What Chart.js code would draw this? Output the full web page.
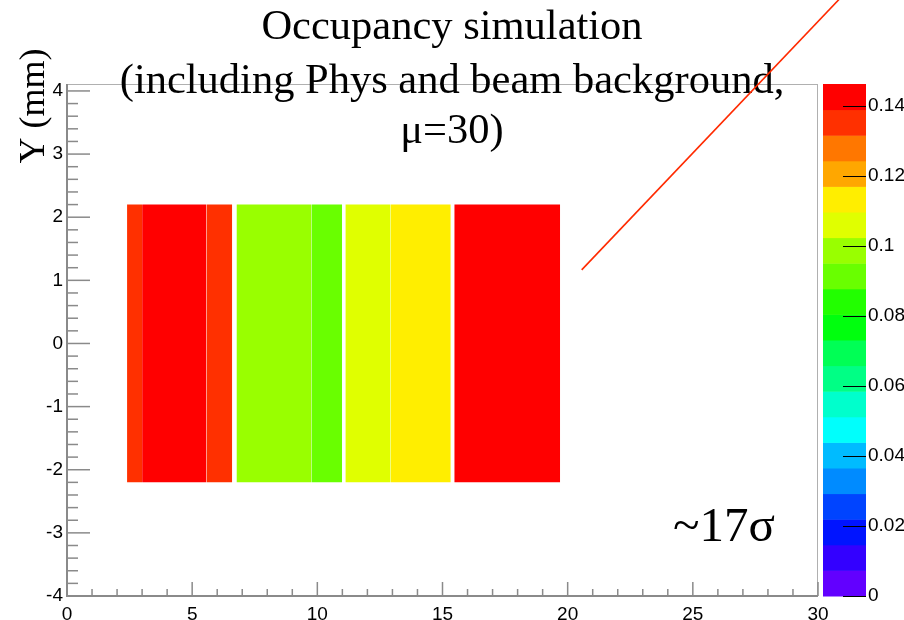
<!DOCTYPE html>
<html>
<head>
<meta charset="utf-8">
<script src="https://cdn.jsdelivr.net/npm/chart.js@4.4.0/dist/chart.umd.min.js"></script>
<style>
  html, body { margin: 0; padding: 0; background: #fff; }
  #occ { display: block; }
</style>
</head>
<body>
<canvas id="occ" width="904" height="620"></canvas>
<script>
// strips of the occupancy map, x in mm, each one spans y = -2.2 .. 2.2
const stripLow  = [2.4, 3.0, 5.57, 6.77, 9.76, 11.12, 12.93, 15.47];
const stripHigh = [3.0, 5.57, 6.6, 9.76, 10.99, 12.93, 15.33, 19.7];
const occupancy = [0.135, 0.145, 0.135, 0.098, 0.091, 0.106, 0.113, 0.145];
const stripY = [-2.2, 2.2];

// the red line drawn over the plot
const lineX = [20.56, 31.2];
const lineY = [1.165, 5.6];

const zMax = 0.1463;
const titleLines = ["Occupancy simulation", "(including Phys and beam background,", "\u03bc=30)"];

// ROOT palette 1 with 20 contours, violet -> red
const palette = ["#6200ff", "#3300ff", "#0014ff", "#0044ff", "#008bff", "#00bbff", "#00fffc",
  "#00ffcc", "#00ff85", "#00ff55", "#00ff0e", "#22ff00", "#69ff00", "#99ff00", "#e0ff00",
  "#ffee00", "#ffa700", "#ff7700", "#ff3000", "#ff0000"];

function colorFor(v) {
  let i = Math.floor(v / zMax * palette.length);
  return palette[Math.min(i, palette.length - 1)];
}

let datasets = occupancy.map(function (v, i) {
  return {
    data: [{x: stripLow[i], y: stripY[1]}, {x: stripHigh[i], y: stripY[1]}],
    fill: {value: stripY[0]},
    backgroundColor: colorFor(v),
    borderColor: 'rgba(0,0,0,0)',
    borderWidth: 0,
    pointRadius: 0
  };
});
datasets.push({
  data: [{x: lineX[0], y: lineY[0]}, {x: lineX[1], y: lineY[1]}],
  borderColor: '#ff2a00',
  borderWidth: 1.6,
  pointRadius: 0,
  fill: false,
  clip: false
});

const serif = '"Liberation Serif", "Times New Roman", serif';
const sans = '"Liberation Sans", Arial, sans-serif';

function line(ctx, x0, y0, x1, y1) {
  ctx.beginPath();
  ctx.moveTo(x0, y0);
  ctx.lineTo(x1, y1);
  ctx.stroke();
}

// fixed box sizes, no extra padding from the labels
function fixBox(w, h) {
  return function (s) {
    if (w !== null) s.width = w;
    if (h !== null) s.height = h;
    s.paddingTop = 0; s.paddingBottom = 0;
    s.paddingLeft = 0; s.paddingRight = 0;
  };
}

// frame, minor ticks, palette bar and the texts
const decor = {
  id: 'decor',
  beforeDatasetsDraw(chart) {
    const ctx = chart.ctx;
    const area = chart.chartArea;
    const sx = chart.scales.x, sy = chart.scales.y, sz = chart.scales.z;
    ctx.save();

    // palette
    for (let j = 0; j < palette.length; j++) {
      let y0 = sz.getPixelForValue(j * zMax / palette.length);
      let y1 = sz.getPixelForValue((j + 1) * zMax / palette.length);
      ctx.fillStyle = palette[j];
      ctx.fillRect(area.right + 5, y1, 43, y0 - y1 + 0.5);
    }
    ctx.strokeStyle = '#000';
    ctx.lineWidth = 1;
    for (let t = 0; t <= 0.14 + 1e-9; t += 0.02) {
      let py = Math.round(sz.getPixelForValue(t)) + 0.5;
      line(ctx, area.right + 25, py, area.right + 48, py);
    }

    // frame
    ctx.strokeStyle = '#b0b0b0';
    ctx.lineWidth = 1;
    line(ctx, area.left, area.top + 0.5, area.right, area.top + 0.5);
    line(ctx, area.right - 0.5, area.top, area.right - 0.5, area.bottom);
    ctx.strokeStyle = '#8a8a8a';
    ctx.lineWidth = 2;
    line(ctx, area.left, area.top, area.left, area.bottom + 1);
    line(ctx, area.left - 1, area.bottom, area.right, area.bottom);

    // ticks
    ctx.lineWidth = 1.5;
    for (let i = 0; i <= 30; i++) {
      let px = sx.getPixelForValue(i);
      line(ctx, px, area.bottom, px, area.bottom - (i % 5 === 0 ? 14 : 7));
    }
    for (let i = -20; i <= 20; i++) {
      let py = sy.getPixelForValue(i / 5);
      line(ctx, area.left, py, area.left + (i % 5 === 0 ? 23 : 11), py);
    }

    // texts
    ctx.fillStyle = '#000';
    ctx.textAlign = 'center';
    ctx.textBaseline = 'alphabetic';
    ctx.font = '42.5px ' + serif;
    ctx.fillText(titleLines[0], 452, 39);
    ctx.fillText(titleLines[1], 452, 93);
    ctx.fillText(titleLines[2], 452, 143);

    ctx.save();
    ctx.translate(44, 106);
    ctx.rotate(-Math.PI / 2);
    ctx.font = '36px ' + serif;
    ctx.fillText('Y (mm)', 0, 0);
    ctx.restore();

    ctx.textAlign = 'left';
    ctx.font = '49px ' + serif;
    ctx.fillText('~17\u03c3', 673, 541);
    ctx.restore();
  }
};

const tickFont = {family: sans, size: 19};

new Chart(document.getElementById('occ').getContext('2d'), {
  type: 'line',
  data: {datasets: datasets},
  options: {
    responsive: false,
    animation: false,
    events: [],
    layout: {padding: {top: 84, left: 0, right: 0, bottom: 0}},
    plugins: {
      legend: {display: false},
      tooltip: {enabled: false},
      title: {display: false}
    },
    scales: {
      x: {
        type: 'linear', min: 0, max: 30,
        afterFit: fixBox(null, 24),
        grid: {display: false, drawTicks: false}, border: {display: false},
        ticks: {stepSize: 5, font: tickFont, color: '#000', padding: 7, maxRotation: 0, autoSkip: false}
      },
      y: {
        type: 'linear', min: -4, max: 4.11,
        afterFit: fixBox(67, null),
        grid: {display: false, drawTicks: false}, border: {display: false},
        ticks: {stepSize: 1, includeBounds: false, font: tickFont, color: '#000', padding: 4, autoSkip: false}
      },
      z: {
        type: 'linear', position: 'right', min: 0, max: zMax,
        afterFit: fixBox(86, null),
        grid: {display: false, drawTicks: false}, border: {display: false},
        ticks: {
          stepSize: 0.02, includeBounds: false, font: tickFont, color: '#000', padding: 50, autoSkip: false,
          callback: function (v) { return String(+v.toFixed(2)); }
        }
      }
    }
  },
  plugins: [decor]
});
</script>
</body>
</html>
